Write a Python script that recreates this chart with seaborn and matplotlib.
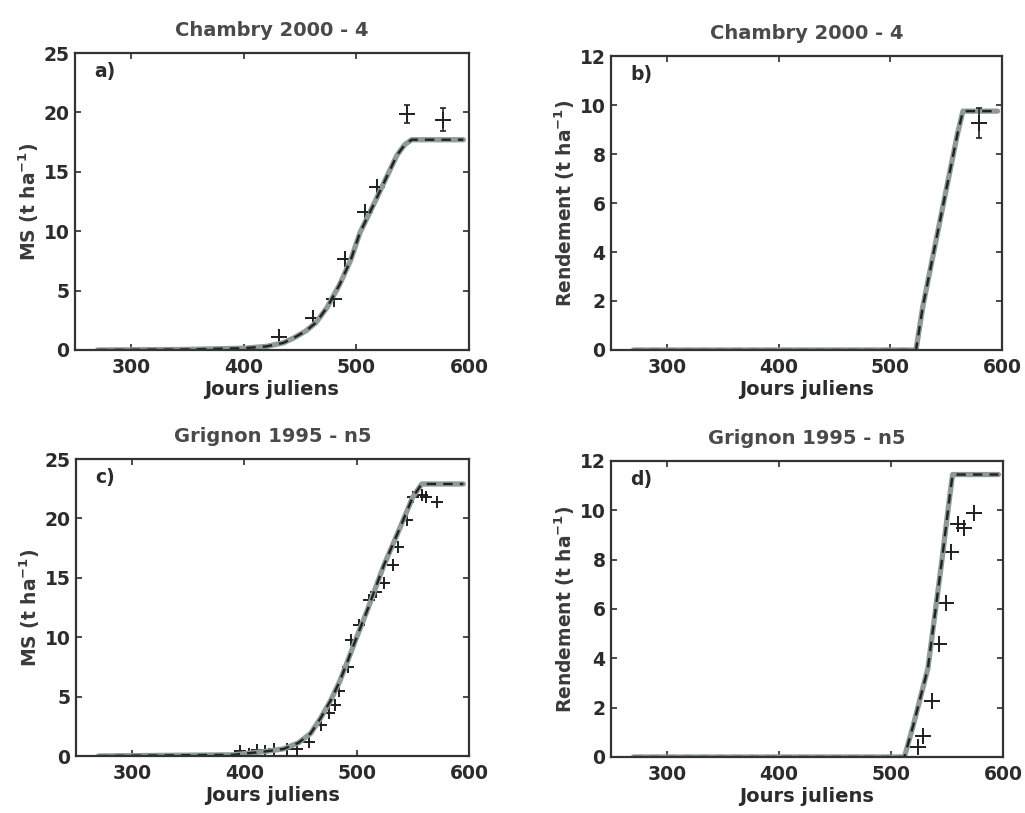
import numpy as np
import pandas as pd
import matplotlib
matplotlib.use("Agg")
import matplotlib.pyplot as plt
import seaborn as sns

sns.set_style("ticks")
plt.rcParams['font.family'] = ['DejaVu Sans']
plt.rcParams['font.weight'] = 'bold'
plt.rcParams['mathtext.fontset'] = 'dejavusans'

# ---------------- data ----------------
titles = ["Chambry 2000 - 4", "Chambry 2000 - 4", "Grignon 1995 - n5", "Grignon 1995 - n5"]
panel_labels = ["a)", "b)", "c)", "d)"]
ylabels = ["MS (t ha$^{\\mathbf{-1}}$)", "Rendement (t ha$^{\\mathbf{-1}}$)",
           "MS (t ha$^{\\mathbf{-1}}$)", "Rendement (t ha$^{\\mathbf{-1}}$)"]
xlabel = "Jours juliens"

# simulations (panel a)
sim_a_x = [270, 350, 400, 420, 435, 444, 455, 464, 474, 485, 495, 503, 515, 525, 536, 543, 549, 595]
sim_a_y = [0.0, 0.05, 0.15, 0.3, 0.6, 1.0, 1.6, 2.3, 3.6, 5.5, 7.6, 9.85, 12.2, 14.2, 16.4, 17.3, 17.7, 17.7]
obs_a_x = [431, 461, 480, 490, 508, 518, 545, 577]
obs_a_y = [1.1, 2.7, 4.3, 7.7, 11.6, 13.7, 19.9, 19.4]
obs_a_err = [0.0, 0.0, 0.0, 0.0, 0.0, 0.0, 0.75, 1.0]

# panel b
sim_b_x = [270, 523, 529, 545, 560, 565, 596]
sim_b_y = [0.0, 0.0, 1.75, 5.4, 8.8, 9.75, 9.75]
obs_b_x = [579]
obs_b_y = [9.27]
obs_b_err = [0.6]

# panel c
sim_c_x = [270, 320, 390, 400, 420, 435, 448, 459, 468, 477, 485, 492, 500, 510, 524, 539, 550, 558, 595]
sim_c_y = [0.0, 0.05, 0.1, 0.2, 0.4, 0.6, 1.1, 1.9, 3.2, 4.7, 6.3, 8.0, 10.0, 12.4, 16.0, 19.3, 21.8, 22.9, 22.9]
obs_c_x = [396, 404, 411, 418, 426, 438, 447, 458, 468, 475, 481, 484, 492, 495, 502, 511, 517, 524, 532,
           537, 545, 550, 558, 562, 572]
obs_c_y = [0.4, 0.2, 0.5, 0.4, 0.6, 0.6, 0.6, 1.2, 2.6, 3.6, 4.3, 5.5, 7.5, 9.8, 11.0, 13.1, 13.8, 14.6, 16.1,
           17.6, 19.9, 21.8, 22.0, 21.8, 21.4]

# panel d
sim_d_x = [270, 512, 520, 533, 545, 552, 555, 596]
sim_d_y = [0.0, 0.0, 1.3, 3.6, 7.8, 10.4, 11.45, 11.45]
obs_d_x = [524, 529, 537, 543, 549, 554, 560, 565, 574]
obs_d_y = [0.4, 0.85, 2.25, 4.6, 6.25, 8.3, 9.45, 9.3, 9.9]

sims = [(sim_a_x, sim_a_y), (sim_b_x, sim_b_y), (sim_c_x, sim_c_y), (sim_d_x, sim_d_y)]
obs = [(obs_a_x, obs_a_y, obs_a_err), (obs_b_x, obs_b_y, obs_b_err),
       (obs_c_x, obs_c_y, None), (obs_d_x, obs_d_y, None)]
ylims = [(0, 25), (0, 12), (0, 25), (0, 12)]
yticks = [[0, 5, 10, 15, 20, 25], [0, 2, 4, 6, 8, 10, 12], [0, 5, 10, 15, 20, 25], [0, 2, 4, 6, 8, 10, 12]]
xticks = [300, 400, 500, 600]
marker_sizes = [11, 12, 9, 12]

positions = [
    [0.0732, 0.5695, 0.3844, 0.3653],
    [0.5961, 0.5695, 0.3815, 0.3616],
    [0.0741, 0.0701, 0.3834, 0.3653],
    [0.5961, 0.0689, 0.3824, 0.3641],
]

txt = '#2b2b2b'
fig = plt.figure(figsize=(10.25, 8.13), dpi=100)

for i in range(4):
    ax = fig.add_axes(positions[i])
    sx, sy = sims[i]
    df = pd.DataFrame({"x": sx, "y": sy})
    sns.lineplot(data=df, x="x", y="y", ax=ax, color='#8d9c97', lw=3.8, estimator=None, sort=False)
    sns.lineplot(data=df, x="x", y="y", ax=ax, color='#222222', lw=1.7, estimator=None, sort=False,
                 dashes=False, linestyle=(0, (4, 3)))
    ox, oy, oe = obs[i]
    if oe is not None:
        ax.errorbar(ox, oy, yerr=oe, fmt='none', ecolor='#222222', elinewidth=1.2, capsize=2.5, capthick=1.2)
    sns.scatterplot(x=ox, y=oy, ax=ax, marker='+', s=marker_sizes[i] ** 2, color='#1e1e1e', linewidth=1.4)

    ax.set_xlim(250, 600)
    ax.set_ylim(*ylims[i])
    ax.set_xticks(xticks)
    ax.set_yticks(yticks[i])
    ax.tick_params(direction='in', top=True, right=True, length=4, width=1.2, colors=txt,
                   labelsize=13.5)
    ax.tick_params(axis='x', pad=6)
    ax.tick_params(axis='y', pad=4)
    for lab in ax.get_xticklabels() + ax.get_yticklabels():
        lab.set_fontweight('bold')
    for sp in ax.spines.values():
        sp.set_visible(True)
        sp.set_linewidth(1.6)
        sp.set_color('#333333')
    ax.set_xlabel(xlabel, fontsize=14, fontweight='bold', color=txt, labelpad=2)
    ax.set_ylabel(ylabels[i], fontsize=13.5, fontweight='bold', color='#3a3a3a', labelpad=2)
    ax.set_title(titles[i], fontsize=14, fontweight='bold', color='#4a4a4a', pad=12)
    ax.text(0.05, 0.97, panel_labels[i], transform=ax.transAxes, ha='left', va='top',
            fontsize=13.5, fontweight='bold', color=txt)

fig.savefig("out.png", dpi=100, facecolor='white')
